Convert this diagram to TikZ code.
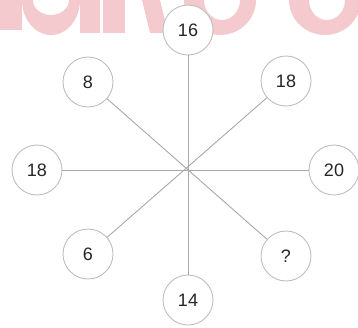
\documentclass[tikz,border=0pt]{standalone}
\usepackage{fontspec}
\setmainfont{Liberation Sans}
\definecolor{wmpink}{RGB}{245,202,207}
\definecolor{circgray}{RGB}{190,190,190}
\definecolor{linegray}{RGB}{168,168,168}

\begin{document}
\begin{tikzpicture}[x=1pt,y=1pt,
    num/.style={circle,draw=circgray,line width=0.9pt,fill=white,minimum size=50pt,
      inner sep=0pt,font=\fontsize{18}{18}\selectfont,text=black!85},
    spoke/.style={draw=linegray,line width=0.9pt}]
  \useasboundingbox (0,0) rectangle (358,-327);

  % watermark at the top edge
  \begin{scope}
    \clip (0,0) rectangle (358,-36);
    \fill[wmpink] (0,0) rectangle (22,-30);
    \fill[wmpink,even odd rule] (51,0) ellipse (29 and 35) (51,0) ellipse (18 and 15);
    \fill[wmpink] (80,0) rectangle (100,-33);
    \fill[wmpink] (103,0) rectangle (125,-33);
    \fill[wmpink] (142,0) -- (160,0) -- (168,-33) -- (150,-33) -- cycle;
    \fill[wmpink,even odd rule] (220,0) ellipse (36 and 35) (222,0) ellipse (18 and 20);
    \fill[wmpink,even odd rule] (325,0) ellipse (36 and 35) (327,0) ellipse (18 and 20);
  \end{scope}

  \node[num] (n16) at (188,-30) {16};
  \node[num] (n8) at (88,-82) {8};
  \node[num] (n18a) at (286,-81) {18};
  \node[num] (n18b) at (37,-170) {18};
  \node[num] (n20) at (334,-170) {20};
  \node[num] (n6) at (88,-254) {6};
  \node[num] (nq) at (286,-256) {?};
  \node[num] (n14) at (188,-300) {14};

  \draw[spoke] (n16) -- (n14);
  \draw[spoke] (n18b) -- (n20);
  \draw[spoke] (n8) -- (nq);
  \draw[spoke] (n18a) -- (n6);
\end{tikzpicture}
\end{document}
